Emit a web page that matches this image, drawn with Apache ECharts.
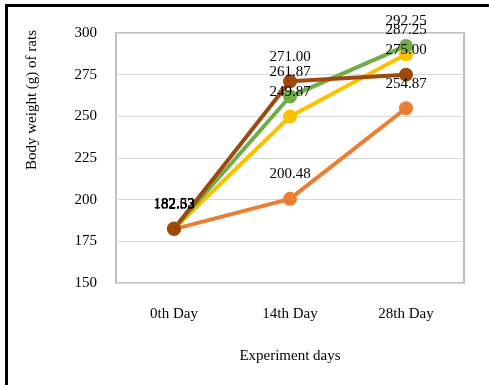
<!DOCTYPE html>
<html>
<head>
<meta charset="utf-8">
<script src="https://cdn.jsdelivr.net/npm/echarts@6/dist/echarts.min.js"></script>
<style>
  html, body { margin: 0; padding: 0; background: #fff; }
  #chart { width: 489px; height: 385px; }
</style>
</head>
<body>
<div id="chart"></div>
<script>
// Rat body weight over the experiment period
const days = ['0th Day', '14th Day', '28th Day'];
const groupOrange = [182.33, 200.48, 254.87];
const groupYellow = [182.52, 249.87, 287.25];
const groupGreen  = [182.63, 261.87, 292.25];
const groupBrown  = [182.53, 271.00, 275.00];
const yTicks = [150, 175, 200, 225, 250, 275, 300];

const font = 'Liberation Serif, Times New Roman, serif';

function lineSeries(data, color) {
  return {
    type: 'line',
    data: data,
    symbol: 'circle',
    symbolSize: 14,
    lineStyle: { color: color, width: 4 },
    itemStyle: { color: color },
    label: {
      show: true,
      position: 'top',
      distance: 10,
      color: '#000',
      fontFamily: font,
      fontSize: 15,
      formatter: p => p.value.toFixed(2)
    },
    z: 2
  };
}

const chart = echarts.init(document.getElementById('chart'), null, { renderer: 'canvas' });
chart.setOption({
  animation: false,
  backgroundColor: '#fff',
  grid: { left: 116, top: 33, right: 25, bottom: 102, show: true, borderColor: '#BFBFBF', borderWidth: 2 },
  xAxis: {
    type: 'category',
    data: days,
    axisLine: { show: false },
    axisTick: { show: false },
    axisLabel: { color: '#000', fontFamily: font, fontSize: 15, margin: 24 },
    name: 'Experiment days',
    nameLocation: 'middle',
    nameGap: 66,
    nameTextStyle: { color: '#000', fontFamily: font, fontSize: 15 }
  },
  yAxis: {
    type: 'value',
    min: yTicks[0],
    max: yTicks[yTicks.length - 1],
    interval: 25,
    axisLine: { show: false },
    axisTick: { show: false },
    axisLabel: { color: '#000', fontFamily: font, fontSize: 15, margin: 19 },
    splitLine: { lineStyle: { color: '#D9D9D9', width: 1 } }
  },
  graphic: [
    {
      type: 'text',
      left: 25,
      top: 30,
      rotation: Math.PI / 2,
      style: {
        text: 'Body weight (g) of rats',
        fill: '#000',
        font: '15px ' + font
      }
    },
    {
      type: 'rect',
      shape: { x: 6.5, y: 5.5, width: 500, height: 400 },
      style: { fill: 'none', stroke: '#000', lineWidth: 3 },
      silent: true
    }
  ],
  series: [
    lineSeries(groupOrange, '#ED7D31'),
    lineSeries(groupYellow, '#FFC000'),
    lineSeries(groupGreen, '#70AD47'),
    lineSeries(groupBrown, '#9E480E')
  ]
});
</script>
</body>
</html>
